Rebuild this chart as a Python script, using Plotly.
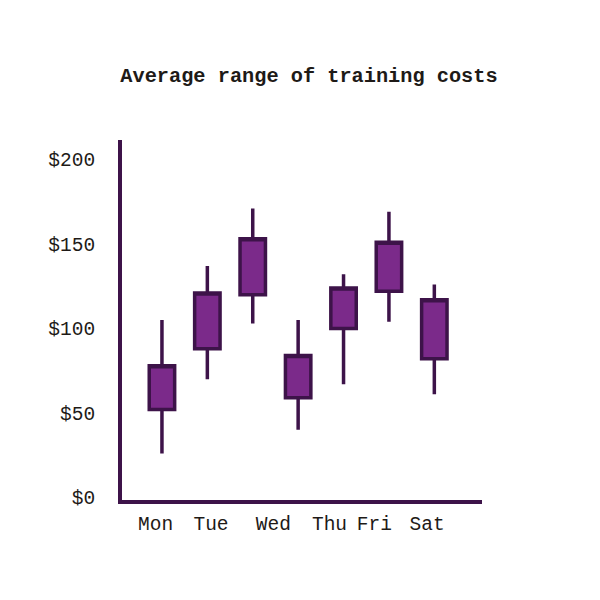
import plotly.graph_objects as go

# Data
sessions = [0, 1, 2, 3, 4, 5, 6]
lows = [26, 70, 103, 40, 67, 104, 61]
body_low = [52, 88, 120, 59, 100, 122, 82]
body_high = [78, 121, 153, 84, 124, 151, 117]
highs = [105, 137, 171, 105, 132, 169, 126]

tick_positions = [-0.14, 1.08, 2.455, 3.69, 4.68, 5.84]
tick_labels = ["Mon", "Tue", "Wed", "Thu", "Fri", "Sat"]

y_ticks = [0, 50, 100, 150, 200]
y_tick_labels = ["$0", "$50", "$100", "$150", "$200"]

FILL = "#7b2a8a"
EDGE = "#3d1349"
TEXT = "#1e1a17"
FONT = "Liberation Mono"

fig = go.Figure(
    go.Candlestick(
        x=sessions,
        open=body_low,
        close=body_high,
        low=lows,
        high=highs,
        increasing=dict(fillcolor=FILL, line=dict(color=EDGE, width=3.5)),
        decreasing=dict(fillcolor=FILL, line=dict(color=EDGE, width=3.5)),
        whiskerwidth=0,
        hoverinfo="skip",
        showlegend=False,
    )
)

fig.update_layout(
    width=600,
    height=600,
    margin=dict(l=122, r=118, t=140, b=100),
    paper_bgcolor="white",
    plot_bgcolor="white",
    boxgap=0.2,
    title=dict(
        text="<b>Average range of training costs</b>",
        x=0.515,
        xanchor="center",
        y=1 - 75 / 600,
        yanchor="middle",
        font=dict(family=FONT, size=20.3, color=TEXT),
    ),
    xaxis=dict(
        range=[-0.88, 7.05],
        tickmode="array",
        tickvals=tick_positions,
        ticktext=tick_labels,
        showgrid=False,
        zeroline=False,
        showline=True,
        linecolor=EDGE,
        linewidth=4,
        ticks="",
        ticklabelstandoff=3,
        tickfont=dict(family=FONT, size=19.5, color=TEXT),
        rangeslider=dict(visible=False),
        fixedrange=True,
    ),
    yaxis=dict(
        range=[-1.5, 211.5],
        tickmode="array",
        tickvals=y_ticks,
        ticktext=y_tick_labels,
        showgrid=False,
        zeroline=False,
        showline=True,
        linecolor=EDGE,
        linewidth=4,
        ticks="",
        ticklabelstandoff=19,
        tickfont=dict(family=FONT, size=19.5, color=TEXT),
        fixedrange=True,
    ),
)

fig.write_html("out.html", config={"displayModeBar": False})
